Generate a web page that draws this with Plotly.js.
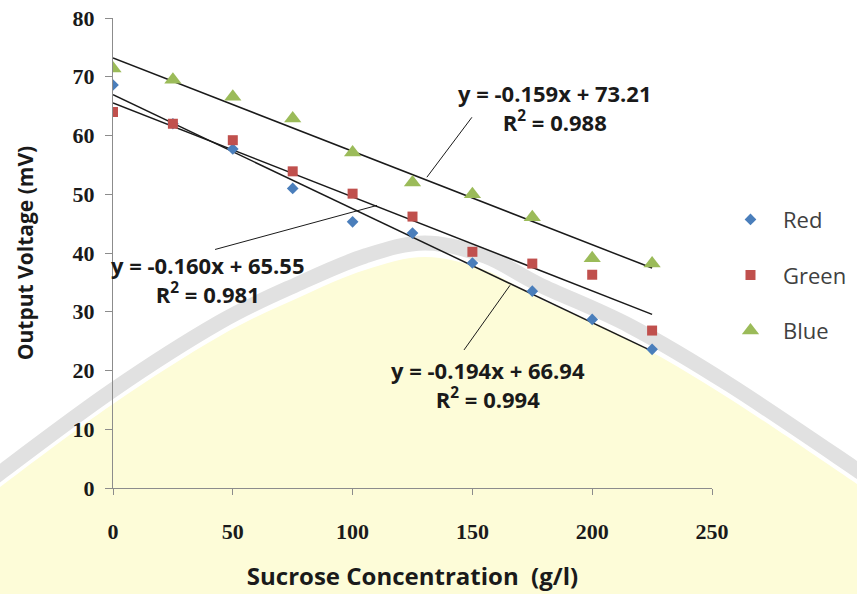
<!DOCTYPE html>
<html>
<head>
<meta charset="utf-8">
<script src="https://cdn.plot.ly/plotly-3.0.1.min.js"></script>
<style>html,body{margin:0;padding:0;background:#fff;}#chart{width:857px;height:594px;}</style>
</head>
<body>
<div id="chart"></div>
<script>
// Data
const concentration = [0, 25, 50, 75, 100, 125, 150, 175, 200, 225];
const redValues   = [68.6, 62.0, 57.7, 51.0, 45.3, 43.4, 38.3, 33.5, 28.7, 23.6];
const greenValues = [64.0, 62.0, 59.2, 53.9, 50.1, 46.2, 40.2, 38.2, 36.3, 26.8];
const blueValues  = [71.4, 69.5, 66.6, 62.9, 57.1, 52.0, 50.0, 46.1, 39.1, 38.2];
const seriesNames = ['Red', 'Green', 'Blue'];
// Trendline coefficients as printed on the chart
const slopes     = [-0.194, -0.160, -0.159];
const intercepts = [66.94, 65.55, 73.21];
const rSquared   = ['0.994', '0.981', '0.988'];
const trendRange = [0, 225];
const xTicks = [0, 50, 100, 150, 200, 250];
const yTicks = [0, 10, 20, 30, 40, 50, 60, 70, 80];

const colors = ['#4a7ebb', '#c0504d', '#9bbb59'];
const symbols = ['diamond', 'square', 'triangle-up'];
const sizes = [9, 10, 15];
const values = [redValues, greenValues, blueValues];

const traces = [];
for (let i = 0; i < 3; i++) {
  traces.push({
    x: trendRange,
    y: trendRange.map(x => slopes[i] * x + intercepts[i]),
    mode: 'lines', line: {color: '#1a1a1a', width: 1.5},
    showlegend: false, hoverinfo: 'skip'
  });
}
for (let i = 0; i < 3; i++) {
  traces.push({
    x: concentration, y: values[i], name: seriesNames[i],
    mode: 'markers', legendgroup: seriesNames[i],
    marker: {color: colors[i], symbol: symbols[i], size: sizes[i]}
  });
}

function eqText(i) {
  const s = slopes[i].toFixed(3);
  return 'y = ' + s + 'x + ' + intercepts[i].toFixed(2) + '<br>R<sup>2</sup> = ' + rSquared[i];
}

const labelFont = {family: 'Open Sans, sans-serif', size: 22, color: '#1a1a1a', weight: 'bold'};
const annotations = [
  {x: 184.5, y: 64.8, text: eqText(2)},
  {x: 39.6, y: 35.5, text: eqText(1)},
  {x: 156.5, y: 17.6, text: eqText(0)}
].map(a => Object.assign(a, {xref: 'x', yref: 'y', showarrow: false, font: labelFont, align: 'center'}));

// ---- faint watermark arc in the background (pure decoration) ----
const M = {l: 113, r: 145, t: 18, b: 106};
const plotW = 857 - M.l - M.r, plotH = 594 - M.t - M.b;
const px2paper = (x, y) => [((x - M.l) / plotW).toFixed(4), ((594 - M.b - y) / plotH).toFixed(4)];
const arcPts = [[-40, 505], [0, 473], [113, 390], [220, 322], [300, 283], [365, 256], [425, 243], [485, 256], [540, 285], [630, 326], [730, 385], [857, 470], [900, 500]];
function smoothPath(pts, dy) {
  const p = pts.map(q => [q[0], q[1] + dy]);
  let d = 'M ' + px2paper(p[0][0], p[0][1]).join(',');
  for (let i = 0; i < p.length - 1; i++) {
    const p0 = p[Math.max(i - 1, 0)], p1 = p[i], p2 = p[i + 1], p3 = p[Math.min(i + 2, p.length - 1)];
    const c1 = [p1[0] + (p2[0] - p0[0]) / 6, p1[1] + (p2[1] - p0[1]) / 6];
    const c2 = [p2[0] - (p3[0] - p1[0]) / 6, p2[1] - (p3[1] - p1[1]) / 6];
    d += ' C ' + px2paper(c1[0], c1[1]).join(',') + ' ' + px2paper(c2[0], c2[1]).join(',') + ' ' + px2paper(p2[0], p2[1]).join(',');
  }
  return d;
}
const bandPath = smoothPath(arcPts, 0);
const fillPath = smoothPath(arcPts, 14) + ' L ' + px2paper(900, 650).join(',') + ' L ' + px2paper(-40, 650).join(',') + ' Z';

const shapes = [
  {type: 'path', xref: 'paper', yref: 'paper', layer: 'below', path: fillPath,
   fillcolor: '#fdfcd8', line: {width: 0}},
  {type: 'path', xref: 'paper', yref: 'paper', layer: 'below', path: bandPath,
   line: {color: '#e1e1e1', width: 15}},
  {type: 'line', xref: 'x', yref: 'y', x0: 131, y0: 52.9, x1: 149.8, y1: 63.1, line: {color: '#1a1a1a', width: 1}},
  {type: 'line', xref: 'x', yref: 'y', x0: 42.6, y0: 40.6, x1: 110.2, y1: 48.1, line: {color: '#1a1a1a', width: 1}},
  {type: 'line', xref: 'x', yref: 'y', x0: 146.5, y0: 23.5, x1: 165.7, y1: 34.5, line: {color: '#1a1a1a', width: 1}}
];

const tickFont = {family: 'Liberation Serif, serif', size: 22, color: '#1a1a1a', weight: 'bold'};

const layout = {
  width: 857, height: 594,
  margin: {l: M.l, r: M.r, t: M.t, b: M.b, autoexpand: false},
  paper_bgcolor: 'rgba(0,0,0,0)', plot_bgcolor: 'rgba(0,0,0,0)',
  showlegend: true,
  legend: {x: 1.01, y: 0.453, xanchor: 'left', yanchor: 'middle', tracegroupgap: 24, itemwidth: 55,
           font: {family: 'Open Sans, sans-serif', size: 22, color: '#404040'}, bgcolor: 'rgba(0,0,0,0)'},
  xaxis: {range: [0, 250], tickvals: xTicks, ticktext: xTicks.map(String), showgrid: false, zeroline: false,
          showline: true, linecolor: '#8c8c8c', linewidth: 1, ticks: 'outside', ticklen: 6, tickcolor: '#8c8c8c',
          tickfont: tickFont, ticklabelstandoff: 18,
          title: {text: 'Sucrose Concentration  (g/l)', font: {family: 'Open Sans, sans-serif', size: 24, color: '#1a1a1a', weight: 'bold'}, standoff: 24}},
  yaxis: {range: [0, 80], tickvals: yTicks, ticktext: yTicks.map(String), showgrid: false, zeroline: false,
          showline: true, linecolor: '#8c8c8c', linewidth: 1, ticks: 'outside', ticklen: 7, tickcolor: '#8c8c8c',
          tickfont: tickFont, ticklabelstandoff: 6,
          title: {text: 'Output Voltage (mV)', font: {family: 'Open Sans, sans-serif', size: 21, color: '#1a1a1a', weight: 'bold'}, standoff: 33}},
  annotations: annotations,
  shapes: shapes
};

Plotly.newPlot('chart', traces, layout, {displayModeBar: false, staticPlot: true});
</script>
</body>
</html>
